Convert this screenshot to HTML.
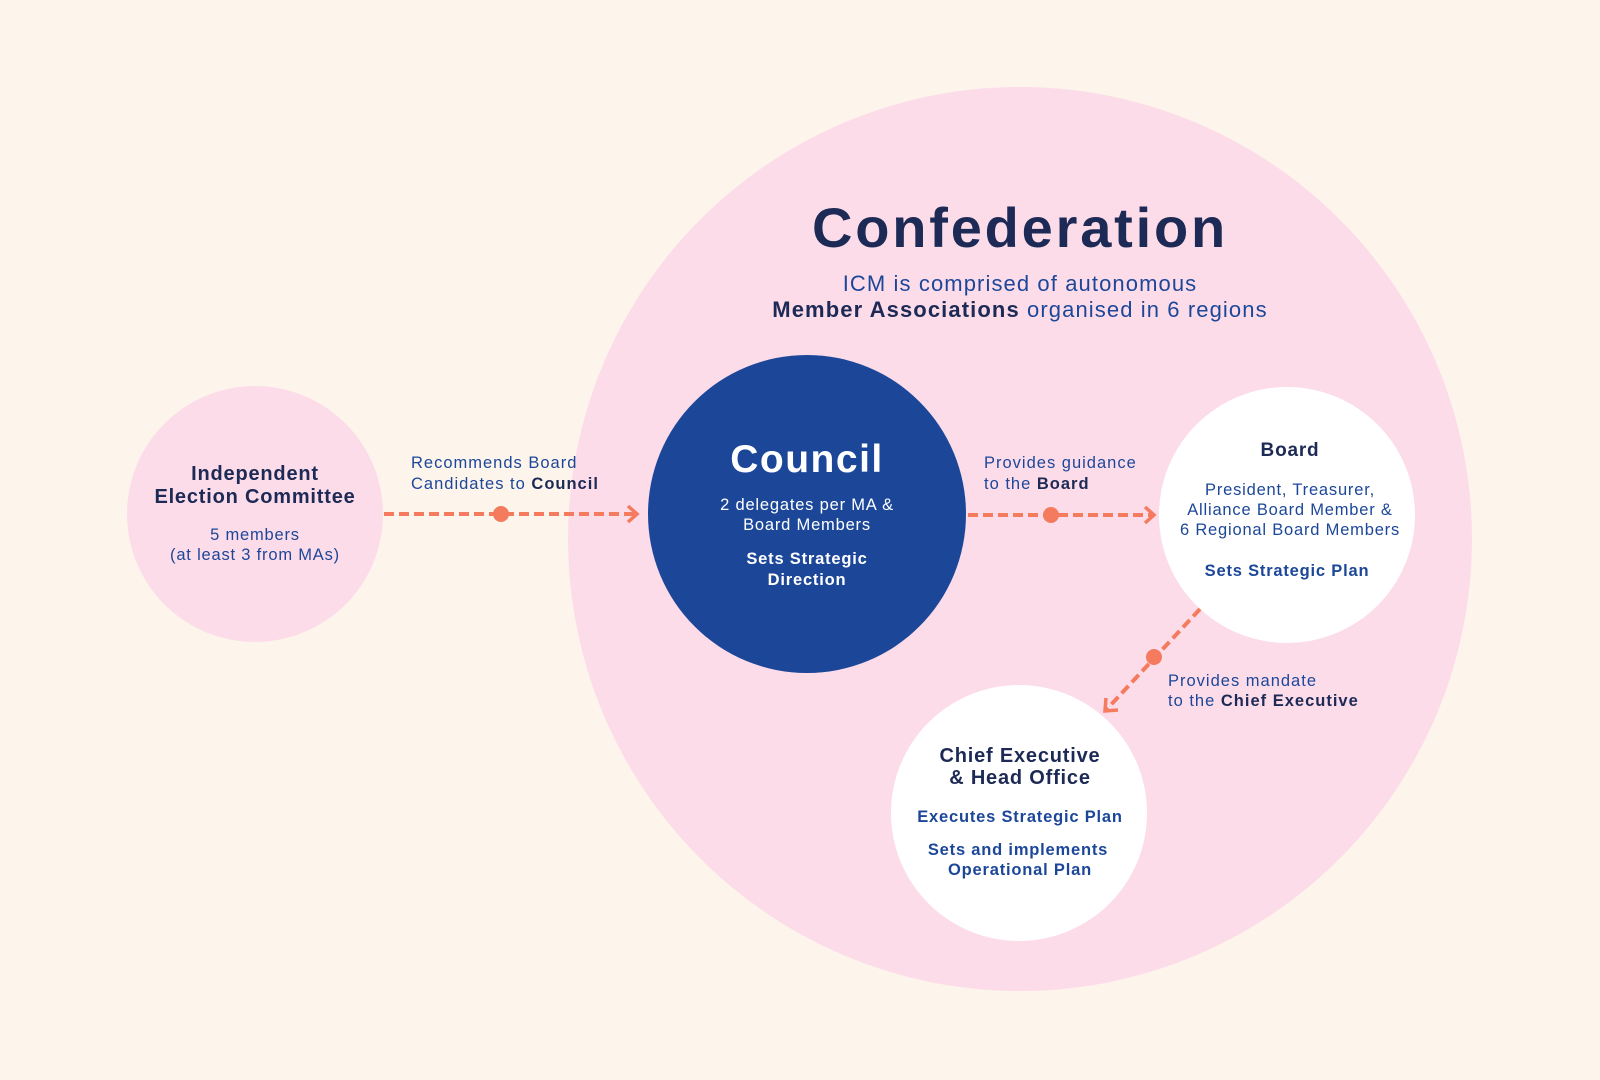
<!DOCTYPE html>
<html><head><meta charset="utf-8"><style>
html,body{margin:0;padding:0;background:#fdf4ec;}
svg{display:block;}
text{font-family:"Liberation Sans",sans-serif;}
</style></head><body>
<svg width="1600" height="1080" viewBox="0 0 1600 1080" xmlns="http://www.w3.org/2000/svg">
<rect width="1600" height="1080" fill="#fdf4ec"/>
<circle cx="1020" cy="539" r="452" fill="#fddcea"/>
<circle cx="255" cy="514" r="128" fill="#fddcea"/>
<circle cx="807" cy="514" r="159" fill="#1c4799"/>
<circle cx="1287" cy="515" r="128" fill="#ffffff"/>
<circle cx="1019" cy="813" r="128" fill="#ffffff"/>

<text x="1020" y="247" text-anchor="middle" font-size="56" font-weight="bold" fill="#1c2a55" letter-spacing="2.8">Confederation</text>
<text x="1020" y="291" text-anchor="middle" font-size="22" fill="#1c4799" letter-spacing="1.1">ICM is comprised of autonomous</text>
<text x="1020" y="317" text-anchor="middle" font-size="22" fill="#1c4799" letter-spacing="1.1"><tspan font-weight="bold" fill="#1c2a55">Member Associations</tspan> organised in 6 regions</text>

<g stroke="#f47b5e" stroke-width="4" fill="none">
<line x1="384" y1="514" x2="636" y2="514" stroke-dasharray="10,5"/>
<polyline points="628,506 637,514 628,522" stroke-width="3.5"/>
<line x1="968" y1="515" x2="1153" y2="515" stroke-dasharray="10,5"/>
<polyline points="1145,507 1154,515 1145,523" stroke-width="3.5"/>
<line x1="1200" y1="609" x2="1107" y2="709" stroke-dasharray="10,5"/>
<polyline points="1106,698 1105,711 1118,710" stroke-width="3.5"/>
</g>
<g fill="#f47b5e">
<circle cx="501" cy="514" r="8"/>
<circle cx="1051" cy="515" r="8"/>
<circle cx="1154" cy="657" r="8"/>
</g>

<g font-size="16.5" fill="#1c4799" letter-spacing="1">
<text x="411" y="468">Recommends Board</text>
<text x="411" y="489">Candidates to <tspan font-weight="bold" fill="#1c2a55">Council</tspan></text>
<text x="984" y="468">Provides guidance</text>
<text x="984" y="489">to the <tspan font-weight="bold" fill="#1c2a55">Board</tspan></text>
<text x="1168" y="686">Provides mandate</text>
<text x="1168" y="706">to the <tspan font-weight="bold" fill="#1c2a55">Chief Executive</tspan></text>
</g>

<g text-anchor="middle" letter-spacing="0.8">
<text x="255" y="480" font-size="20" font-weight="bold" fill="#1c2a55">Independent</text>
<text x="255" y="503" font-size="20" font-weight="bold" fill="#1c2a55">Election Committee</text>
<text x="255" y="540" font-size="16.5" fill="#1c4799">5 members</text>
<text x="255" y="560" font-size="16.5" fill="#1c4799">(at least 3 from MAs)</text>

<text x="807" y="472" font-size="39" font-weight="bold" fill="#ffffff" letter-spacing="1.5">Council</text>
<text x="807" y="510" font-size="16.5" fill="#ffffff">2 delegates per MA &amp;</text>
<text x="807" y="530" font-size="16.5" fill="#ffffff">Board Members</text>
<text x="807" y="564" font-size="16.5" font-weight="bold" fill="#ffffff">Sets Strategic</text>
<text x="807" y="585" font-size="16.5" font-weight="bold" fill="#ffffff">Direction</text>

<text x="1290" y="456" font-size="19" font-weight="bold" fill="#1c2a55">Board</text>
<text x="1290" y="495" font-size="16.5" fill="#1c4799">President, Treasurer,</text>
<text x="1290" y="515" font-size="16.5" fill="#1c4799">Alliance Board Member &amp;</text>
<text x="1290" y="535" font-size="16.5" fill="#1c4799">6 Regional Board Members</text>
<text x="1287" y="576" font-size="16.5" font-weight="bold" fill="#1c4799">Sets Strategic Plan</text>

<text x="1020" y="762" font-size="20" font-weight="bold" fill="#1c2a55">Chief Executive</text>
<text x="1020" y="784" font-size="20" font-weight="bold" fill="#1c2a55">&amp; Head Office</text>
<text x="1020" y="822" font-size="16.5" font-weight="bold" fill="#1c4799">Executes Strategic Plan</text>
<text x="1018" y="855" font-size="16.5" font-weight="bold" fill="#1c4799">Sets and implements</text>
<text x="1020" y="875" font-size="16.5" font-weight="bold" fill="#1c4799">Operational Plan</text>
</g>
</svg>
</body></html>
